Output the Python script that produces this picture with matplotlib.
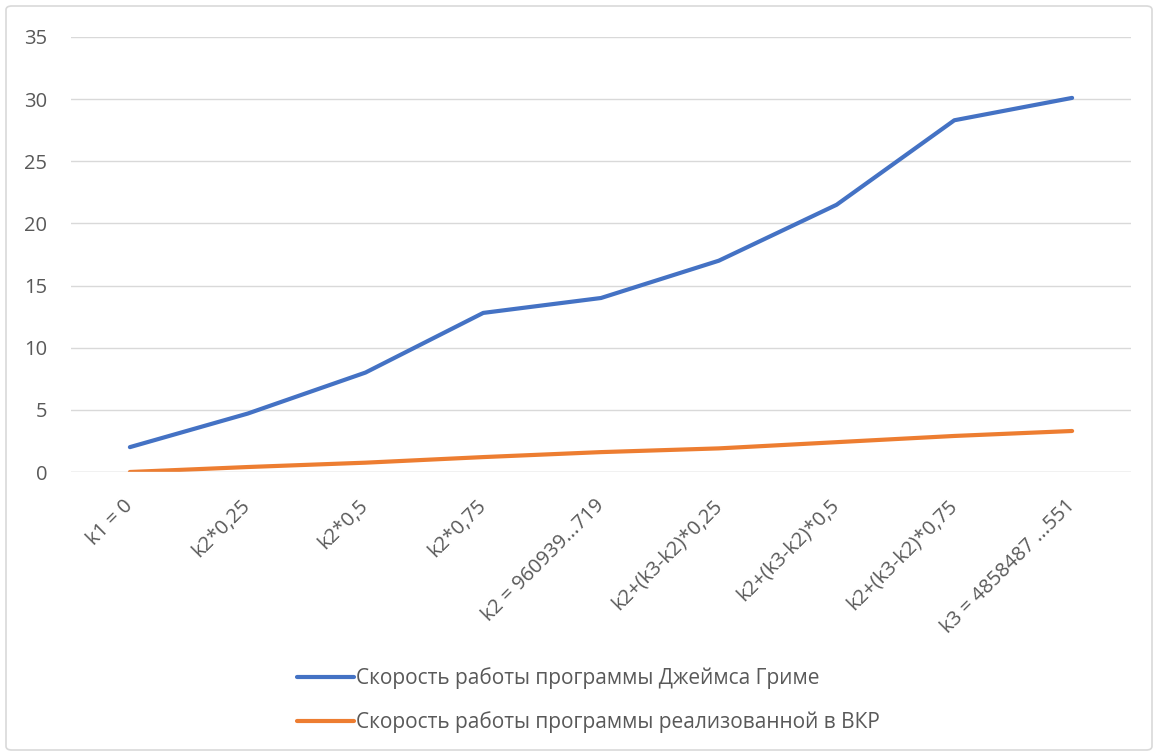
import matplotlib.pyplot as plt
from matplotlib.patches import FancyBboxPatch

plt.rcParams['font.family'] = ['Open Sans', 'DejaVu Sans']

categories = ["k1 = 0", "k2*0,25", "k2*0,5", "k2*0,75", "k2 = 960939...719",
              "k2+(k3-k2)*0,25", "k2+(k3-k2)*0,5", "k2+(k3-k2)*0,75",
              "k3 = 4858487 ...551"]
grime_speed = [2.0, 4.7, 8.0, 12.8, 14.0, 17.0, 21.5, 28.3, 30.1]
vkr_speed = [0.0, 0.4, 0.75, 1.2, 1.6, 1.9, 2.4, 2.9, 3.3]
series_names = ["Скорость работы программы Джеймса Гриме",
                "Скорость работы программы реализованной в ВКР"]

text_color = '#595959'

fig = plt.figure(figsize=(11.58, 7.56), dpi=100)
# outer chart border
fig.patches.append(FancyBboxPatch((6 / 1158, 6 / 756), 1 - 12 / 1158, 1 - 12 / 756,
                                  boxstyle='round,pad=0,rounding_size=0.005',
                                  transform=fig.transFigure, fill=False,
                                  edgecolor='#D9D9D9', linewidth=1.2))

ax = fig.add_axes([71 / 1158, 1 - 472 / 756, 1060 / 1158, 435 / 756])
x = range(len(categories))
ax.plot(x, grime_speed, color='#4472C4', linewidth=3, solid_capstyle='round',
        label=series_names[0])
ax.plot(x, vkr_speed, color='#ED7D31', linewidth=3, solid_capstyle='round',
        label=series_names[1])

ax.set_xlim(-0.5, len(categories) - 0.5)
ax.set_ylim(0, 35)
ax.set_yticks(range(0, 36, 5))
ax.yaxis.grid(True, color='#D9D9D9', linewidth=1)
ax.set_axisbelow(True)
for s in ax.spines.values():
    s.set_visible(False)
ax.tick_params(axis='both', length=0, colors=text_color, labelsize=14.5)
ax.tick_params(axis='y', pad=17)
ax.set_xticks(list(x))
ax.set_xticklabels(categories, rotation=45, ha='right', va='center',
                   rotation_mode='anchor')
ax.tick_params(axis='x', pad=22)
ax.axhline(0, color='#D9D9D9', linewidth=1)

leg = fig.legend(loc='center', bbox_to_anchor=(0.508, 1 - 700 / 756), ncol=1,
                 frameon=False, fontsize=15, handlelength=2.75, handletextpad=0.1,
                 labelspacing=1.05)
for t in leg.get_texts():
    t.set_color(text_color)

fig.savefig('out.png', dpi=100)
